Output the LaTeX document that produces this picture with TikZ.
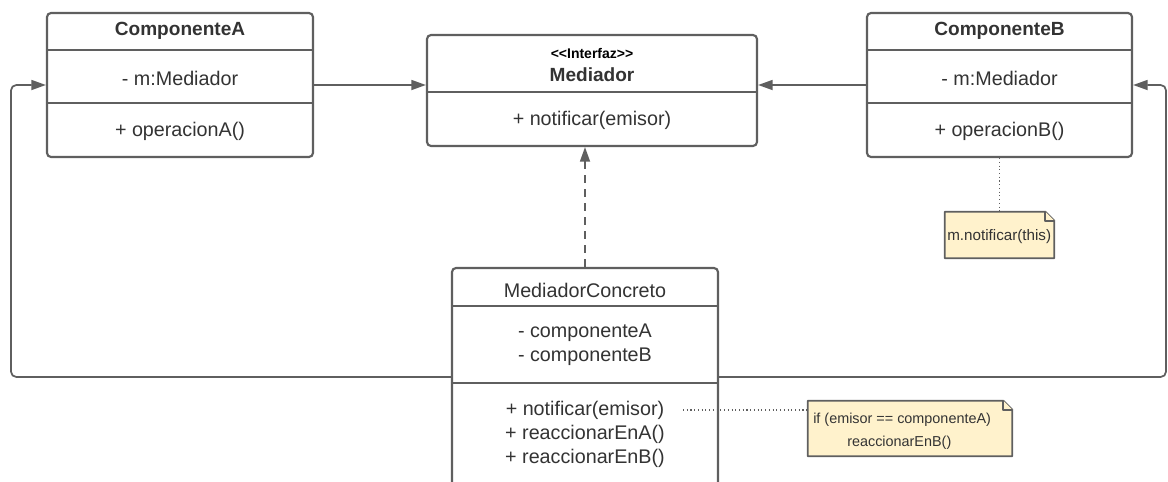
\documentclass[tikz,border=0pt]{standalone}
\usepackage{fontspec}
\setmainfont{Liberation Sans}
\newfontfamily\rawsans{Liberation Sans}
\usetikzlibrary{arrows.meta,calc}
\definecolor{edge}{RGB}{95,95,95}
\definecolor{ink}{RGB}{51,51,51}
\definecolor{notefill}{RGB}{255,242,204}
\begin{document}
\begin{tikzpicture}[x=0.75pt,y=-0.75pt,
  umlbox/.style={draw=edge, line width=1.6pt, rounded corners=3pt, fill=white, inner sep=0pt},
  divider/.style={draw=edge, line width=1.6pt},
  txt/.style={text=ink, inner sep=0pt, font=\fontsize{14.8}{17}\selectfont},
  hdr/.style={text=ink, inner sep=0pt, font=\bfseries\fontsize{14.3}{17}\selectfont},
  small/.style={text=black, inner sep=0pt, font=\rawsans\bfseries\fontsize{10.5}{12}\selectfont},
  notetxt/.style={text=ink, inner sep=0pt, anchor=west},
  notebox/.style={draw=edge, line width=1.4pt, fill=notefill, line join=round},
  arr/.style={draw=edge, line width=1.3pt, -{Triangle[length=11pt,width=7.5pt]}},
  dep/.style={arr, dashed, dash pattern=on 6pt off 4.5pt},
  link/.style={draw=edge, line width=0.8pt, dotted}
]
\useasboundingbox (0,0) rectangle (1168,482);

% ---- ComponenteA ----
\node[umlbox, minimum width=266*0.75pt, minimum height=144*0.75pt] (A) at (180,85) {};
\draw[divider] ($(A.north west)+(0,38)$) -- ($(A.north east)+(0,38)$);
\draw[divider] ($(A.north west)+(0,91)$) -- ($(A.north east)+(0,91)$);
\node[hdr] (Aname) at (180,31) {ComponenteA};
\node[txt] (Aattr) at (180,78) {- m:Mediador};
\node[txt] (Aop) at (180,131) {+ operacionA()};

% ---- Mediador (interface) ----
\node[umlbox, minimum width=330*0.75pt, minimum height=111*0.75pt] (M) at (592,90.5) {};
\draw[divider] ($(M.north west)+(0,58)$) -- ($(M.north east)+(0,58)$);
\node[small] (Mster) at (592,53) {<\kern0pt<Interfaz>\kern0pt>};
\node[hdr] (Mname) at (592,75) {Mediador};
\node[txt] (Mop) at (592,120) {+ notificar(emisor)};

% ---- ComponenteB ----
\node[umlbox, minimum width=265*0.75pt, minimum height=144*0.75pt] (B) at (999.5,85) {};
\draw[divider] ($(B.north west)+(0,38)$) -- ($(B.north east)+(0,38)$);
\draw[divider] ($(B.north west)+(0,91)$) -- ($(B.north east)+(0,91)$);
\node[hdr] (Bname) at (999.5,31) {ComponenteB};
\node[txt] (Battr) at (999.5,78) {- m:Mediador};
\node[txt] (Bop) at (999.5,131) {+ operacionB()};

% ---- MediadorConcreto ----
\node[umlbox, minimum width=266*0.75pt, minimum height=218*0.75pt] (MC) at (585,377) {};
\draw[divider] ($(MC.north west)+(0,39)$) -- ($(MC.north east)+(0,39)$);
\draw[divider] ($(MC.north west)+(0,116)$) -- ($(MC.north east)+(0,116)$);
\node[txt] (MCname) at (585,290) {MediadorConcreto};
\node[txt] (MCa1) at (585,333) {- componenteA};
\node[txt] (MCa2) at (585,357) {- componenteB};
\node[txt] (MCo1) at (585,410) {+ notificar(emisor)};
\node[txt] (MCo2) at (585,434) {+ reaccionarEnA()};
\node[txt] (MCo3) at (585,458) {+ reaccionarEnB()};

% ---- notes ----
\node[minimum width=109*0.75pt, minimum height=46*0.75pt, inner sep=0pt] (n1) at (999.5,235) {};
\draw[notebox] (n1.north west) -- ($(n1.north east)+(-9,0)$) -- ($(n1.north east)+(0,9)$)
  -- (n1.south east) -- (n1.south west) -- cycle;
\draw[notebox] ($(n1.north east)+(-9,0)$) -- ($(n1.north east)+(-9,9)$) -- ($(n1.north east)+(0,9)$);
\node[notetxt, font=\fontsize{11.4}{14}\selectfont] (n1t) at (947,237) {m.notificar(this)};

\node[minimum width=204*0.75pt, minimum height=55*0.75pt, inner sep=0pt] (n2) at (910,428.5) {};
\draw[notebox] (n2.north west) -- ($(n2.north east)+(-9,0)$) -- ($(n2.north east)+(0,9)$)
  -- (n2.south east) -- (n2.south west) -- cycle;
\draw[notebox] ($(n2.north east)+(-9,0)$) -- ($(n2.north east)+(-9,9)$) -- ($(n2.north east)+(0,9)$);
\node[notetxt, font=\fontsize{10.8}{13}\selectfont] (n2t1) at (813,420) {if (emisor == componenteA)};
\node[notetxt, font=\fontsize{10.8}{13}\selectfont] (n2t2) at (847,443) {reaccionarEnB()};

% ---- connectors ----
\coordinate (lx) at (11,230);
\coordinate (rx) at (1166,230);
\coordinate (p) at (683,410);
\draw[arr] (A.east) -- (A.east -| M.west);
\draw[arr] (B.west) -- (B.west -| M.east);
\draw[dep] (MC.north) -- (MC.north |- M.south);
\draw[arr, rounded corners=4pt] (MC.west) -| (lx) |- (A.west);
\draw[arr, rounded corners=4pt] (MC.east) -| (rx) |- (B.east);
\draw[link] (B.south) -- (n1.north);
\draw[link] (p) -- (p -| n2.west);
\end{tikzpicture}
\end{document}
